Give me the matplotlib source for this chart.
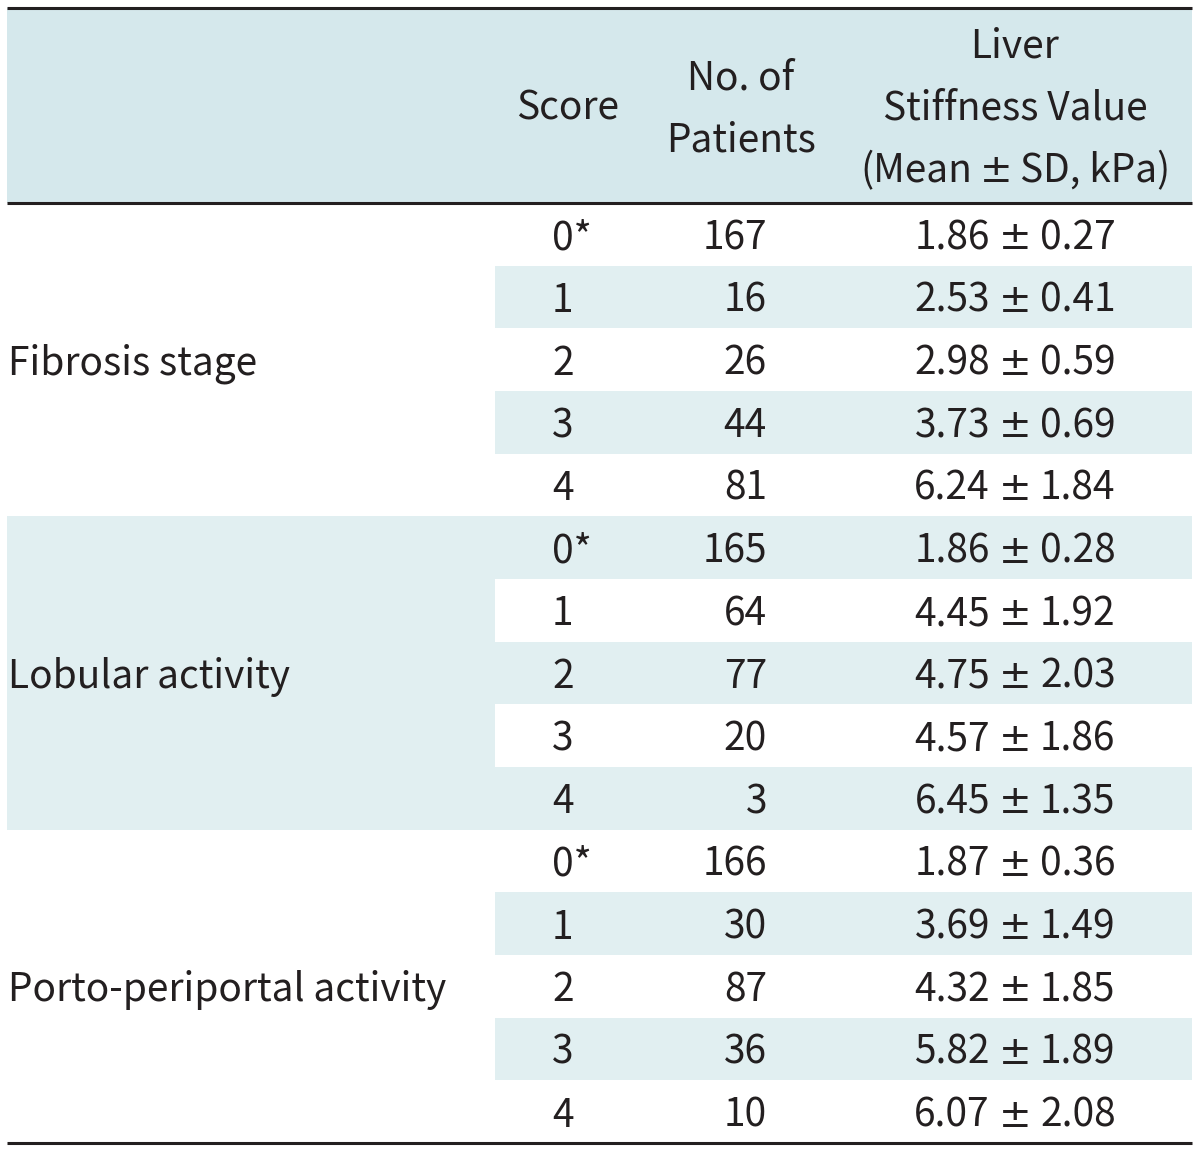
"""Liver stiffness by histologic score - table redrawn with matplotlib."""

import matplotlib

matplotlib.use("Agg")
import matplotlib.pyplot as plt
from matplotlib.patches import Rectangle

plt.rcParams["font.family"] = ["Noto Sans CJK KR", "DejaVu Sans"]

# table content
GROUPS = ["Fibrosis stage", "Lobular activity", "Porto-periportal activity"]
SCORES = ["0*", "1", "2", "3", "4"]
N_PATIENTS = [
    [167, 16, 26, 44, 81],
    [165, 64, 77, 20, 3],
    [166, 30, 87, 36, 10],
]
LSV_MEAN = [
    [1.86, 2.53, 2.98, 3.73, 6.24],
    [1.86, 4.45, 4.75, 4.57, 6.45],
    [1.87, 3.69, 4.32, 5.82, 6.07],
]
LSV_SD = [
    [0.27, 0.41, 0.59, 0.69, 1.84],
    [0.28, 1.92, 2.03, 1.86, 1.35],
    [0.36, 1.49, 1.85, 1.89, 2.08],
]
HEAD_SCORE = "Score"
HEAD_N = ["No. of", "Patients"]
HEAD_LSV = ["Liver", "Stiffness Value"]
HEAD_LSV_LAST = ("(Mean", "SD, kPa)")

# layout (pixel coordinates, y downwards)
W, H = 1200, 1153
X0, X1 = 7, 1192
X_SPLIT = 495
Y_TOP, Y_HEAD, Y_BOT = 8, 203, 1143
HEAD_BG = "#D5E8EC"
ROW_BG = "#E1EFF1"
INK = "#231F20"
FS = 28
BASE_OFF = 15
PM = "\u00b1"

fig = plt.figure(figsize=(W / 100, H / 100), dpi=100)
ax = fig.add_axes([0, 0, 1, 1])
ax.set_xlim(0, W)
ax.set_ylim(H, 0)
ax.axis("off")

n_rows = len(GROUPS) * len(SCORES)
row_h = (Y_BOT - Y_HEAD) / n_rows

# backgrounds
ax.add_patch(Rectangle((X0, Y_TOP), X1 - X0, Y_HEAD - Y_TOP, color=HEAD_BG, lw=0))
for i in range(n_rows):
    if i % 2 == 1:
        ax.add_patch(Rectangle((X_SPLIT, Y_HEAD + i * row_h), X1 - X_SPLIT, row_h, color=ROW_BG, lw=0))
for g in range(len(GROUPS)):
    if g % 2 == 1:
        y = Y_HEAD + g * len(SCORES) * row_h
        ax.add_patch(Rectangle((X0, y), X_SPLIT - X0, len(SCORES) * row_h, color=ROW_BG, lw=0))

# rules
for y in (Y_TOP, Y_HEAD, Y_BOT):
    ax.plot([X0, X1], [y, y], color=INK, lw=2.2, solid_capstyle="butt")

txt = dict(fontsize=FS, color=INK, va="baseline")
pm = dict(fontsize=FS, color=INK, va="baseline", ha="center", family="DejaVu Sans")


def pm_text(xc, y, left, right, gap=25):
    ax.text(xc - gap, y, left, ha="right", **txt)
    ax.text(xc, y, PM, **pm)
    ax.text(xc + gap, y, right, ha="left", **txt)


# header
ax.text(568, 120, HEAD_SCORE, ha="center", **txt)
for k, s in enumerate(HEAD_N):
    ax.text(741, 89 + k * 62, s, ha="center", **txt)
for k, s in enumerate(HEAD_LSV):
    ax.text(1015, 58 + k * 62, s, ha="center", **txt)
pm_text(996, 182, *HEAD_LSV_LAST, gap=24)

# body
for g, name in enumerate(GROUPS):
    mid = Y_HEAD + (g * len(SCORES) + len(SCORES) / 2) * row_h
    ax.text(X0 + 1, mid + BASE_OFF, name, ha="left", **txt)
    for j, sc in enumerate(SCORES):
        yc = Y_HEAD + (g * len(SCORES) + j + 0.5) * row_h + BASE_OFF
        ax.text(552, yc, sc, ha="left", **txt)
        ax.text(767, yc, f"{N_PATIENTS[g][j]}", ha="right", **txt)
        pm_text(1015, yc, f"{LSV_MEAN[g][j]:.2f}", f"{LSV_SD[g][j]:.2f}")

fig.savefig("out.png", dpi=100)
